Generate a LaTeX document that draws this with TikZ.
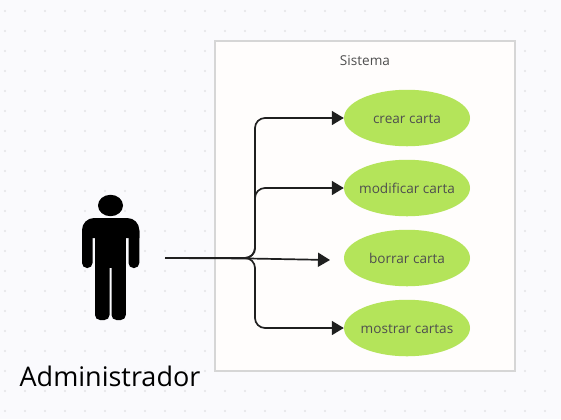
\documentclass[tikz,border=0pt]{standalone}
\usepackage{fontspec}
\setmainfont{Open Sans}
\usetikzlibrary{arrows.meta,shapes.geometric}
\definecolor{bgc}{HTML}{FAFAFD}
\definecolor{dotc}{HTML}{E3E3E6}
\definecolor{framec}{HTML}{D6D6D6}
\definecolor{framefill}{HTML}{FFFDFC}
\definecolor{leaf}{HTML}{B4E45A}
\definecolor{ink}{HTML}{4F4F4F}
\definecolor{wire}{HTML}{1F1F1F}
\newcommand{\uctext}[1]{\makebox[0pt][c]{\raisebox{-0.5bp}{\vphantom{d}#1}}}
\tikzset{
  usecase/.style={ellipse,fill=leaf,minimum width=126bp,minimum height=56.5bp,inner sep=0pt,text=ink,font=\fontsize{13.6bp}{15bp}\selectfont},
  link/.style={draw=wire,line width=1.7bp,rounded corners=10bp,-{Triangle[length=12bp,width=14bp]}},
  sysframe/.style={draw=framec,fill=framefill,line width=1.6bp},
  bgdot/.style={fill=dotc},
  limb/.style={fill=black,rounded corners=5bp},
}
\begin{document}
\begin{tikzpicture}[x=1bp,y=-1bp]
\useasboundingbox (0,0) rectangle (561,419);
\fill[bgc] (0,0) rectangle (561,419);
\foreach \i in {0,...,27}{\foreach \j in {0,...,20}{
  \fill[bgdot] ({5+20*\i},{11+20*\j}) circle[radius=1.1bp];
}}
\draw[sysframe] (215,41) rectangle (515,371);
\node[text=ink,font=\fontsize{13.6bp}{15bp}\selectfont] (sys) at (365,61) {Sistema};
\node[usecase] (crear) at (407,118) {\uctext{crear carta}};
\node[usecase] (modif) at (407,188) {\uctext{modificar carta}};
\node[usecase] (borrar) at (407,258) {\uctext{borrar carta}};
\node[usecase] (mostrar) at (407,328) {\uctext{mostrar cartas}};
% actor
\fill[black] (110.5,205.5) ellipse[x radius=12.5,y radius=10.7];
\fill[black] (82,238) [rounded corners=12bp] -- (82,218) -- (139.3,218) [sharp corners] -- (139.3,238) -- cycle;
\fill[limb] (82,226) rectangle (92.5,268);
\fill[limb] (128.5,226) rectangle (139.3,268);
\fill[black] (92,226) rectangle (129,234);
\fill[black] (95,230) rectangle (125.8,268);
\fill[limb] (95,250) rectangle (109.5,320);
\fill[limb] (111.5,250) rectangle (125.8,320);
\node[text=black,font=\fontsize{27bp}{32bp}\selectfont] (admin) at (110,376.5) {Administrador};
\coordinate (src) at (165,258);
\coordinate (borrarIn) at (330,260);
\draw[link] (src) -- (255,258) -- (255,118) -- (crear.west);
\draw[link] (src) -- (255,258) -- (255,188) -- (modif.west);
\draw[link] (src) -- (250,258.5) -- (borrarIn);
\draw[link] (src) -- (255,258) -- (255,328) -- (mostrar.west);
\end{tikzpicture}
\end{document}
